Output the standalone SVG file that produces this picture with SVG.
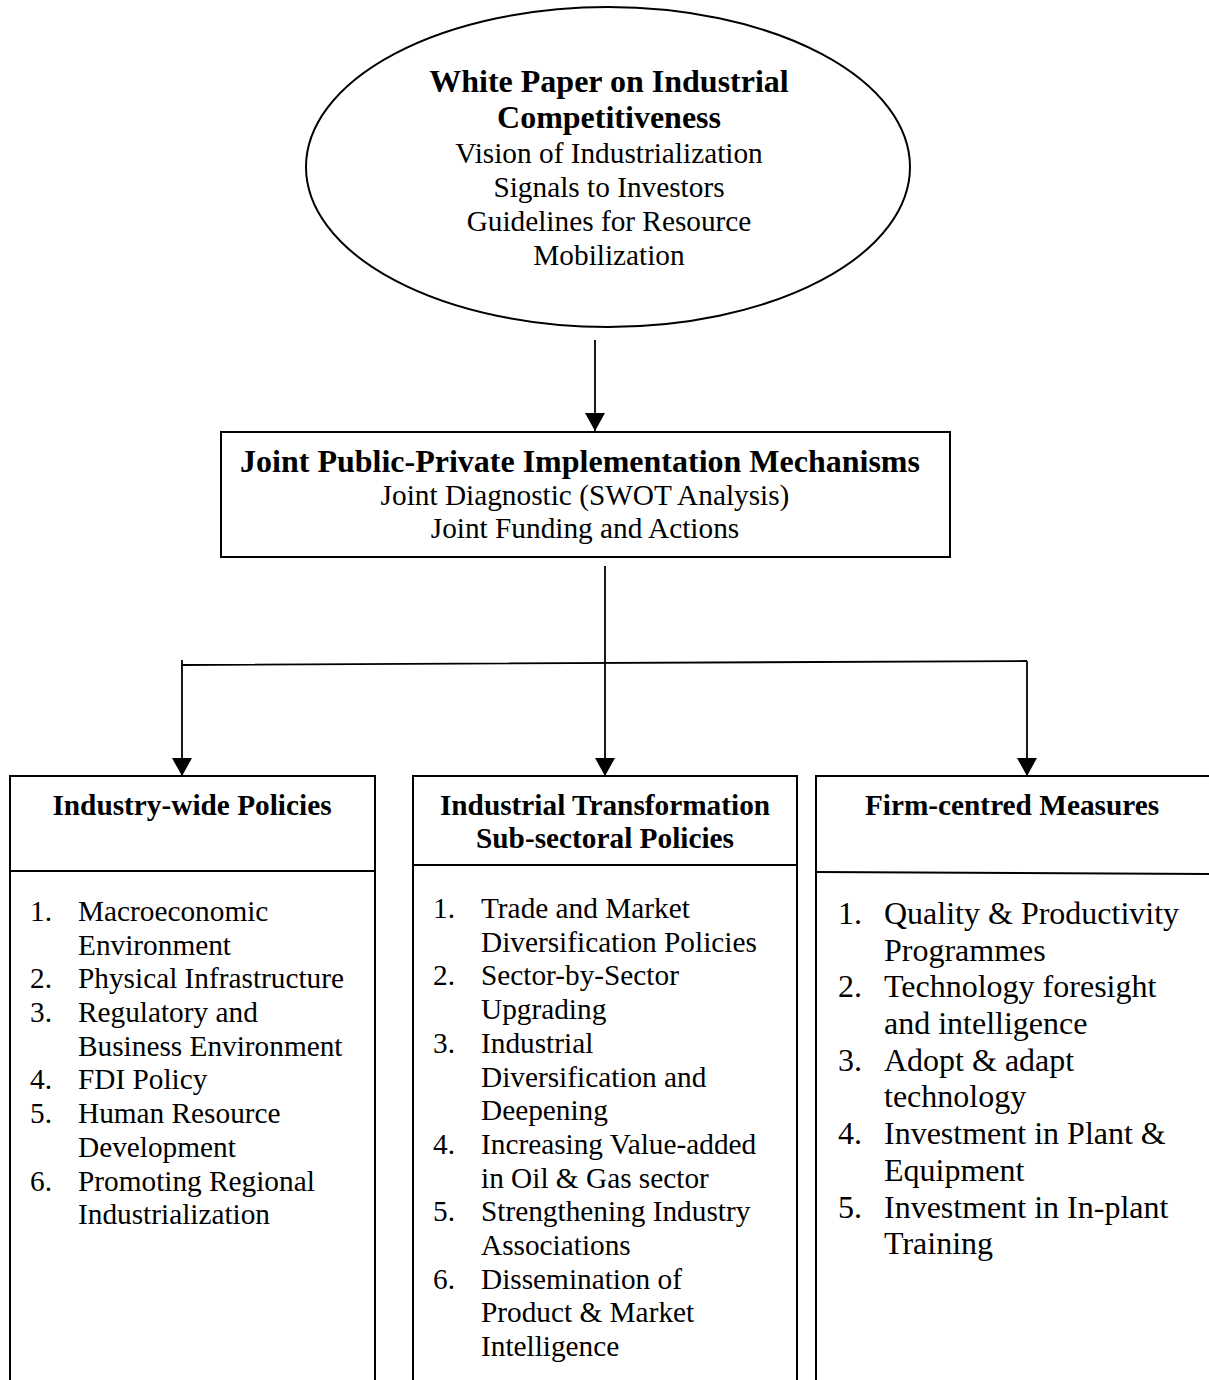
<svg xmlns="http://www.w3.org/2000/svg" width="1209" height="1380" viewBox="0 0 1209 1380">
<style>
text{font-family:"Liberation Serif","Times New Roman",serif;fill:#000}
.t{font-weight:bold;font-size:32px;text-anchor:middle}
.h{font-weight:bold;font-size:29.3px;text-anchor:middle}
.r{font-size:29.3px;text-anchor:middle}
.l{font-size:29.3px}
.lr{font-size:32px}
.shape{fill:#fff;stroke:#000;stroke-width:2}
.ln{fill:none;stroke:#000;stroke-width:1.8}
</style>
<defs>
<marker id="ah" viewBox="0 0 18 20" refX="18" refY="10" markerWidth="18" markerHeight="20" markerUnits="userSpaceOnUse" orient="auto">
<path d="M0,0 L18,10 L0,20 Z" fill="#000"/>
</marker>
</defs>
<rect width="1209" height="1380" fill="#fff"/>

<g id="connectors">
<line class="ln" x1="595" y1="340" x2="595" y2="431" marker-end="url(#ah)"/>
<line class="ln" x1="605" y1="566" x2="605" y2="776" marker-end="url(#ah)"/>
<polyline class="ln" points="182,660 182,665 1027,661"/>
<line class="ln" x1="182" y1="665" x2="182" y2="776" marker-end="url(#ah)"/>
<line class="ln" x1="1027" y1="661" x2="1027" y2="776" marker-end="url(#ah)"/>
</g>

<g id="white-paper">
<ellipse class="shape" cx="608" cy="167" rx="302" ry="160" stroke-width="1.8"/>
<text class="t" x="609" y="92">White Paper on Industrial</text>
<text class="t" x="609" y="128">Competitiveness</text>
<text class="r" x="609" y="163">Vision of Industrialization</text>
<text class="r" x="609" y="197">Signals to Investors</text>
<text class="r" x="609" y="231">Guidelines for Resource</text>
<text class="r" x="609" y="265">Mobilization</text>
</g>

<g id="joint-mechanisms">
<rect class="shape" x="221" y="432" width="729" height="125"/>
<text class="t" x="580" y="472">Joint Public-Private Implementation Mechanisms</text>
<text class="r" x="585" y="505">Joint Diagnostic (SWOT Analysis)</text>
<text class="r" x="585" y="538">Joint Funding and Actions</text>
</g>

<g id="industry-wide">
<path class="shape" d="M10,1382 V776 H375 V1382"/>
<line class="ln" x1="10" y1="871" x2="375" y2="871"/>
<text class="h" x="192" y="815">Industry-wide Policies</text>
<g class="l">
<text x="30" y="921">1.</text><text x="78" y="921">Macroeconomic</text>
<text x="78" y="955">Environment</text>
<text x="30" y="988">2.</text><text x="78" y="988">Physical Infrastructure</text>
<text x="30" y="1022">3.</text><text x="78" y="1022">Regulatory and</text>
<text x="78" y="1056">Business Environment</text>
<text x="30" y="1089">4.</text><text x="78" y="1089">FDI Policy</text>
<text x="30" y="1123">5.</text><text x="78" y="1123">Human Resource</text>
<text x="78" y="1157">Development</text>
<text x="30" y="1191">6.</text><text x="78" y="1191">Promoting Regional</text>
<text x="78" y="1224">Industrialization</text>
</g>
</g>

<g id="sub-sectoral">
<path class="shape" d="M413,1382 V776 H797 V1382"/>
<line class="ln" x1="413" y1="865" x2="797" y2="865"/>
<text class="h" x="605" y="815">Industrial Transformation</text>
<text class="h" x="605" y="848">Sub-sectoral Policies</text>
<g class="l">
<text x="433" y="918">1.</text><text x="481" y="918">Trade and Market</text>
<text x="481" y="952">Diversification Policies</text>
<text x="433" y="985">2.</text><text x="481" y="985">Sector-by-Sector</text>
<text x="481" y="1019">Upgrading</text>
<text x="433" y="1053">3.</text><text x="481" y="1053">Industrial</text>
<text x="481" y="1087">Diversification and</text>
<text x="481" y="1120">Deepening</text>
<text x="433" y="1154">4.</text><text x="481" y="1154">Increasing Value-added</text>
<text x="481" y="1188">in Oil &amp; Gas sector</text>
<text x="433" y="1221">5.</text><text x="481" y="1221">Strengthening Industry</text>
<text x="481" y="1255">Associations</text>
<text x="433" y="1289">6.</text><text x="481" y="1289">Dissemination of</text>
<text x="481" y="1322">Product &amp; Market</text>
<text x="481" y="1356">Intelligence</text>
</g>
</g>

<g id="firm-centred">
<path class="shape" d="M816,1382 V776 H1212"/>
<line class="ln" x1="816" y1="872" x2="1212" y2="874"/>
<text class="h" x="1012" y="815">Firm-centred Measures</text>
<g class="lr">
<text x="838" y="924">1.</text><text x="884" y="924">Quality &amp; Productivity</text>
<text x="884" y="961">Programmes</text>
<text x="838" y="997">2.</text><text x="884" y="997">Technology foresight</text>
<text x="884" y="1034">and intelligence</text>
<text x="838" y="1071">3.</text><text x="884" y="1071">Adopt &amp; adapt</text>
<text x="884" y="1107">technology</text>
<text x="838" y="1144">4.</text><text x="884" y="1144">Investment in Plant &amp;</text>
<text x="884" y="1181">Equipment</text>
<text x="838" y="1218">5.</text><text x="884" y="1218">Investment in In-plant</text>
<text x="884" y="1254">Training</text>
</g>
</g>
</svg>
